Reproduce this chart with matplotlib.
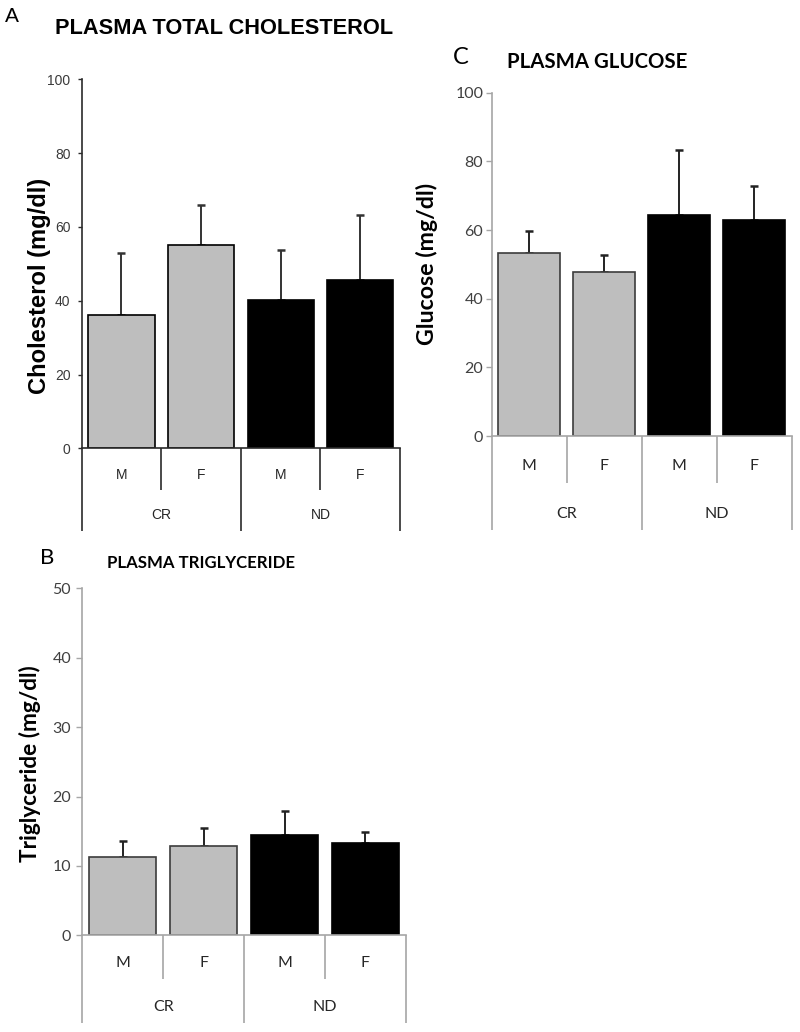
import matplotlib
matplotlib.use("Agg")
import matplotlib.pyplot as plt
import numpy as np

# ---------------- data ----------------
sex_labels = ["M", "F", "M", "F"]
diet_labels = ["CR", "ND"]

chol_mean = [36.0, 55.0, 40.3, 45.7]
chol_sem = [17.0, 10.9, 13.4, 17.5]

glucose_mean = [53.4, 47.8, 64.5, 62.9]
glucose_sem = [6.2, 4.9, 18.9, 10.0]

tg_mean = [11.25, 12.9, 14.5, 13.3]
tg_sem = [2.3, 2.5, 3.35, 1.65]

W, H = 800, 1032
fig = plt.figure(figsize=(W / 100, H / 100), dpi=100)
fig.patch.set_facecolor("white")

GRAY = "#BEBEBE"


def px_axes(left, top, right, bottom):
    return fig.add_axes([left / W, 1 - bottom / H, (right - left) / W, (bottom - top) / H])


def fig_xy(x, y):
    return x / W, 1 - y / H


def fit_text(x, y, s, target, rotation=0, **kw):
    fx, fy = fig_xy(x, y)
    t = fig.text(fx, fy, s, ha="center", va="center", rotation=rotation, **kw)
    r = fig.canvas.get_renderer()
    for _ in range(3):
        bb = t.get_window_extent(renderer=r)
        length = bb.height if rotation == 90 else bb.width
        t.set_fontsize(t.get_fontsize() * target / length)
    return t


def panel(ax, means, sems, ymax, step, h_px, style):
    x = np.arange(4)
    cols = [GRAY, GRAY, "black", "black"]
    if style == "A":
        edge = ["black"] * 4
        axc = "#2b2b2b"
        font = "Liberation Sans"
        fs = 10
        tickc = "#3a3a3a"
        elw = 1.4
        errc = "#333333"
        pad = 5
        tl = 3
    else:
        edge = ["#3c3c3c", "#3c3c3c", "black", "black"]
        axc = "#a6a6a6"
        font = "Lato"
        fs = 11.5
        tickc = "#404040"
        elw = 1.4
        errc = "#222222"
        pad = 2 if style == "C" else 4
        tl = 4
    lower = [0] * 4
    upper = list(sems)
    ax.errorbar(x, means, yerr=[lower, upper], fmt="none", ecolor=errc,
                elinewidth=elw, capsize=2.6, capthick=1.8, zorder=1)
    ax.bar(x, means, width=0.83, color=cols, edgecolor=edge, linewidth=1.2, zorder=2)
    ax.set_xlim(-0.5, 3.5)
    ax.set_ylim(0, ymax)
    ax.set_yticks(np.arange(0, ymax + 0.1, step))
    ax.set_yticklabels([f"{int(v)}" for v in np.arange(0, ymax + 0.1, step)],
                       fontfamily=font, fontsize=fs, color=tickc)
    ax.tick_params(axis="y", direction="out", length=tl, width=1.0, color=axc, pad=pad)
    ax.set_xticks([])
    for s in ["top", "right"]:
        ax.spines[s].set_visible(False)
    for s in ["left", "bottom"]:
        ax.spines[s].set_color(axc)
        ax.spines[s].set_linewidth(1.2)
    return axc, font, fs


def hierarchy(ax, h_px, axc, font, fs, lab_px, grp_px, short_px, long_px):
    tr = ax.get_xaxis_transform()
    for xv in [-0.5, 1.5, 3.5]:
        ax.plot([xv, xv], [0, -long_px / h_px], transform=tr, color=axc,
                lw=1.2, clip_on=False, solid_capstyle="butt")
    for xv in [0.5, 2.5]:
        ax.plot([xv, xv], [0, -short_px / h_px], transform=tr, color=axc,
                lw=1.2, clip_on=False, solid_capstyle="butt")
    for i, s in enumerate(sex_labels):
        ax.text(i, -lab_px / h_px, s, transform=tr, ha="center", va="center",
                fontfamily=font, fontsize=fs, color="#262626")
    for i, s in enumerate(diet_labels):
        ax.text(0.5 + 2 * i, -grp_px / h_px, s, transform=tr, ha="center", va="center",
                fontfamily=font, fontsize=fs, color="#262626")


# ---------------- Panel A ----------------
axA = px_axes(81.7, 79.3, 400.0, 448.3)
hA = 448.3 - 79.3
c, f, fs = panel(axA, chol_mean, chol_sem, 100, 20, hA, "A")
hierarchy(axA, hA, c, f, fs, 26.7, 67.0, 41.7, 83.0)
fig.text(*fig_xy(12, 16), "A", ha="center", va="center", fontsize=15,
         fontfamily="Liberation Sans", color="black")
fit_text(224, 28, "PLASMA TOTAL CHOLESTEROL", 338, fontfamily="Liberation Sans",
         fontweight="bold", fontsize=14, color="black")
fit_text(40, 285.5, "Cholesterol (mg/dl)", 215, rotation=90, fontfamily="Liberation Sans",
         fontweight="bold", fontsize=14, color="black")

# ---------------- Panel C ----------------
axC = px_axes(491.7, 92.7, 791.7, 436.0)
hC = 436.0 - 92.7
c, f, fs = panel(axC, glucose_mean, glucose_sem, 100, 20, hC, "C")
hierarchy(axC, hC, c, f, fs, 29.7, 78.0, 46.7, 94.0)
fig.text(*fig_xy(461, 57), "C", ha="center", va="center", fontsize=17,
         fontfamily="Lato", color="black")
fit_text(597.5, 62, "PLASMA GLUCOSE", 181, fontfamily="Lato",
         fontweight="bold", fontsize=14, color="black")
fit_text(427, 264, "Glucose (mg/dl)", 162, rotation=90, fontfamily="Lato",
         fontweight="bold", fontsize=13, color="black")

# ---------------- Panel B ----------------
axB = px_axes(82.3, 588.3, 405.9, 935.3)
hB = 935.3 - 588.3
c, f, fs = panel(axB, tg_mean, tg_sem, 50, 10, hB, "B")
hierarchy(axB, hB, c, f, fs, 27.7, 71.7, 43.7, 87.7)
fig.text(*fig_xy(47, 558), "B", ha="center", va="center", fontsize=16,
         fontfamily="Lato", color="black")
fit_text(201, 563, "PLASMA TRIGLYCERIDE", 188, fontfamily="Lato",
         fontweight="bold", fontsize=11, color="black")
fit_text(30, 763.5, "Triglyceride (mg/dl)", 197, rotation=90, fontfamily="Lato",
         fontweight="bold", fontsize=13, color="black")

fig.savefig("out.png", dpi=100, facecolor="white")
